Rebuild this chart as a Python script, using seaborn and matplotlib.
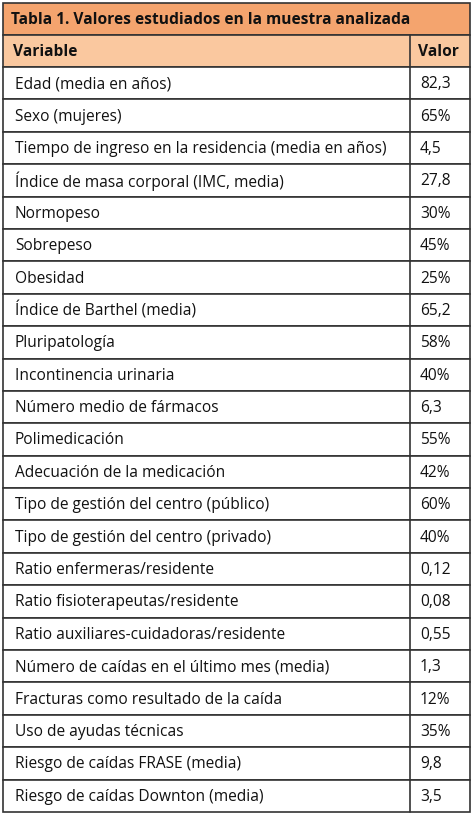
import matplotlib
matplotlib.use("Agg")
import matplotlib.pyplot as plt
import seaborn as sns
from matplotlib.patches import Rectangle

sns.set_theme(style="white")
plt.rcParams['font.family'] = ['Open Sans', 'DejaVu Sans']

title = "Tabla 1. Valores estudiados en la muestra analizada"
headers = ["Variable", "Valor"]
variables = ["Edad (media en años)", "Sexo (mujeres)", "Tiempo de ingreso en la residencia (media en años)",
             "Índice de masa corporal (IMC, media)", "Normopeso", "Sobrepeso", "Obesidad",
             "Índice de Barthel (media)", "Pluripatología", "Incontinencia urinaria",
             "Número medio de fármacos", "Polimedicación", "Adecuación de la medicación",
             "Tipo de gestión del centro (público)", "Tipo de gestión del centro (privado)",
             "Ratio enfermeras/residente", "Ratio fisioterapeutas/residente",
             "Ratio auxiliares-cuidadoras/residente", "Número de caídas en el último mes (media)",
             "Fracturas como resultado de la caída", "Uso de ayudas técnicas",
             "Riesgo de caídas FRASE (media)", "Riesgo de caídas Downton (media)"]
valores = ["82,3", "65%", "4,5", "27,8", "30%", "45%", "25%", "65,2", "58%", "40%", "6,3", "55%",
           "42%", "60%", "40%", "0,12", "0,08", "0,55", "1,3", "12%", "35%", "9,8", "3,5"]

W, H = 474, 815
fig = plt.figure(figsize=(W/100, H/100), dpi=100)
ax = fig.add_axes([0, 0, 1, 1])
ax.set_xlim(0, W); ax.set_ylim(H, 0); ax.axis("off")

L, R, C = 3, 470, 410
top, t_h, h_h = 3, 32, 32
row_h = (812 - (top + t_h + h_h)) / len(variables)
fs = 11.2

ax.add_patch(Rectangle((L, top), R-L, t_h, facecolor="#F4A46E", edgecolor="#333333", lw=1.2))
ax.text(L+8, top+t_h/2+1, title, fontsize=fs, fontweight="bold", va="center", ha="left", color="#111111")
y = top + t_h
ax.add_patch(Rectangle((L, y), R-L, h_h, facecolor="#FAC89F", edgecolor="#333333", lw=1.2))
ax.plot([C, C], [y, y+h_h], color="#333333", lw=1.2)
ax.text(L+10, y+h_h/2+1, headers[0], fontsize=fs, fontweight="bold", va="center", color="#111111")
ax.text(C+8, y+h_h/2+1, headers[1], fontsize=fs, fontweight="bold", va="center", color="#111111")
y += h_h
for v, val in zip(variables, valores):
    ax.add_patch(Rectangle((L, y), R-L, row_h, facecolor="white", edgecolor="#333333", lw=1.2))
    ax.plot([C, C], [y, y+row_h], color="#333333", lw=1.2)
    ax.text(L+12, y+row_h/2+1, v, fontsize=fs, va="center", color="#111111")
    ax.text(C+10, y+row_h/2+1, val, fontsize=fs, va="center", color="#111111")
    y += row_h

fig.savefig("out.png", dpi=100, facecolor="white")
